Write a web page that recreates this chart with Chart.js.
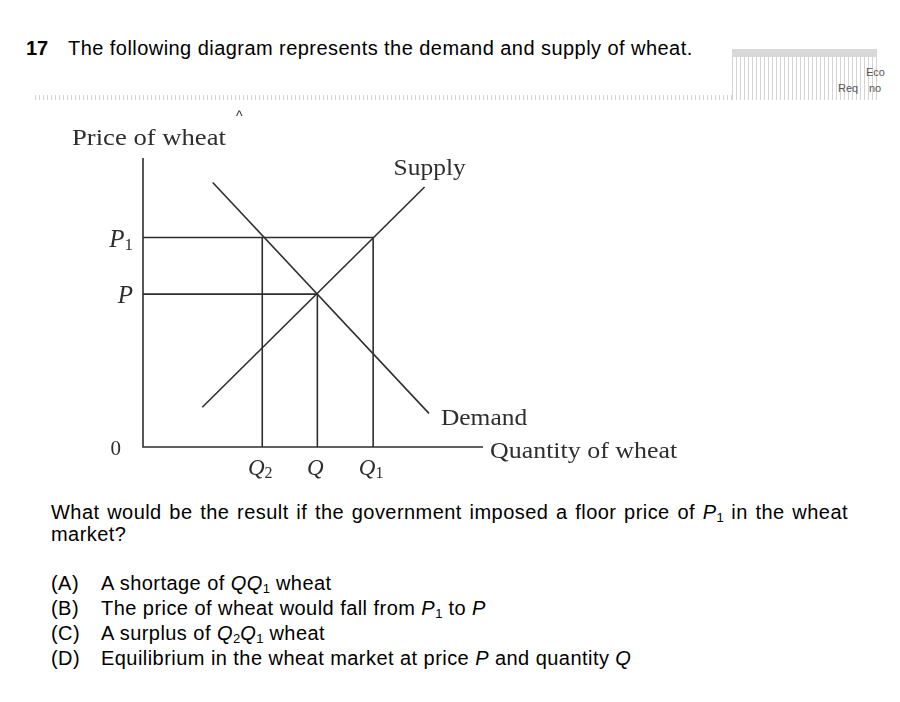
<!DOCTYPE html>
<html>
<head>
<meta charset="utf-8">
<script src="https://cdn.jsdelivr.net/npm/chart.js@4.4.0/dist/chart.umd.min.js"></script>
<style>
    body { margin: 0; background: #fff; width: 900px; height: 702px; position: relative; overflow: hidden;
           font-family: "Liberation Sans", Arial, sans-serif; color: #000; }
    .abs { position: absolute; white-space: nowrap; }
    .txt { font-size: 20px; line-height: 20px; letter-spacing: 0.45px; }
    sub { font-size: 13px; vertical-align: -3px; line-height: 0; letter-spacing: 0; }
    .stripes { background: repeating-linear-gradient(to right, #d4d4d4 0 1px, transparent 1px 4px); }
    .tiny { font-size: 11px; line-height: 11px; color: #555; }
    #question { left: 51px; top: 501px; width: 797px; font-size: 20px; line-height: 22px; letter-spacing: 0.45px;
                text-align: justify; white-space: normal; }
    .opt { font-size: 20px; line-height: 25px; letter-spacing: 0.45px; }
    #wrap { position: absolute; left: 0; top: 100px; width: 700px; height: 390px; }
</style>
</head>
<body>
<div class="abs txt" style="left:26px; top:38px; font-weight:bold; letter-spacing:0;">17</div>
<div class="abs txt" style="left:68px; top:38px;">The following diagram represents the demand and supply of wheat.</div>

<div class="abs" style="left:732px; top:49px; width:145px; height:8px; background:#d9d9d9;"></div>
<div class="abs stripes" style="left:732px; top:57px; width:145px; height:43px;"></div>
<div class="abs stripes" style="left:35px; top:95px; width:697px; height:5px;"></div>
<div class="abs tiny" style="left:866px; top:67px;">Eco</div>
<div class="abs tiny" style="left:838px; top:83px;">Req</div>
<div class="abs tiny" style="left:869px; top:83px;">no</div>

<div id="wrap"><canvas id="diagram" width="700" height="390"></canvas></div>
<div class="abs" style="left:236px; top:108px; font-size:14px; color:#333;">^</div>

<div id="question" class="abs">What would be the result if the government imposed a floor price of <i>P</i><sub>1</sub> in the wheat market?</div>

<div class="abs opt" style="left:51px; top:571px;">(A)<br>(B)<br>(C)<br>(D)</div>
<div class="abs opt" style="left:101px; top:571px;">
A shortage of <i>QQ</i><sub>1</sub> wheat<br>
The price of wheat would fall from <i>P</i><sub>1</sub> to <i>P</i><br>
A surplus of <i>Q</i><sub>2</sub><i>Q</i><sub>1</sub> wheat<br>
Equilibrium in the wheat market at price <i>P</i> and quantity <i>Q</i>
</div>

<script>
// axis ranges (arbitrary units)
const xMax = 19.5;
const yMax = 18.9;

// price levels and quantities
const priceLabels = ['P', 'P1'];
const priceValues = [10, 13.7];
const quantityLabels = ['Q2', 'Q', 'Q1'];
const quantityValues = [6.84, 10, 13.2];

// curve end points
const supplyX = [3.4, 16.15];
const supplyY = [2.6, 17.0];
const demandX = [4.0, 16.4];
const demandY = [17.3, 2.2];

const P = priceValues[0], P1 = priceValues[1];
const Q2 = quantityValues[0], Q = quantityValues[1], Q1 = quantityValues[2];

const ink = '#2e2e2e';
const serif = '"Liberation Serif", "Times New Roman", serif';

function pts(xs, ys) {
    return xs.map((x, i) => ({ x: x, y: ys[i] }));
}

function line(data) {
    return {
        data: data,
        showLine: true,
        borderColor: ink,
        borderWidth: 1.6,
        pointRadius: 0,
        fill: false,
        tension: 0,
        clip: false
    };
}

// draws a label like P1 / Q2 with a small upright subscript
function mathLabel(ctx, text, x, y, size, align) {
    const main = text[0];
    const sub = text.slice(1);
    ctx.font = 'italic ' + size + 'px ' + serif;
    const w1 = ctx.measureText(main).width;
    ctx.font = Math.round(size * 0.68) + 'px ' + serif;
    const w2 = sub ? ctx.measureText(sub).width : 0;
    let left = x;
    if (align === 'right') left = x - w1 - w2;
    if (align === 'center') left = x - (w1 + w2) / 2;
    ctx.textAlign = 'left';
    ctx.font = 'italic ' + size + 'px ' + serif;
    ctx.fillText(main, left, y);
    if (sub) {
        ctx.font = Math.round(size * 0.68) + 'px ' + serif;
        ctx.fillText(sub, left + w1, y + size * 0.12);
    }
}

function stretchText(ctx, text, x, y, size, sx) {
    ctx.save();
    ctx.translate(x, y);
    ctx.scale(sx, 1);
    ctx.font = size + 'px ' + serif;
    ctx.textAlign = 'left';
    ctx.fillText(text, 0, 0);
    ctx.restore();
}

const labelPlugin = {
    id: 'labels',
    afterDraw(chart) {
        const ctx = chart.ctx;
        const xs = chart.scales.x, ys = chart.scales.y;
        ctx.save();
        ctx.fillStyle = ink;
        ctx.textBaseline = 'alphabetic';

        // price ticks on the vertical axis
        priceLabels.forEach((lab, i) => {
            const py = ys.getPixelForValue(priceValues[i]);
            mathLabel(ctx, lab, xs.getPixelForValue(0) - 10, py + 9, 25, 'right');
        });
        ctx.font = '21px ' + serif;
        ctx.textAlign = 'right';
        ctx.fillText('0', xs.getPixelForValue(0) - 22, ys.getPixelForValue(0) + 8);

        // quantity ticks under the horizontal axis
        quantityLabels.forEach((lab, i) => {
            const px = xs.getPixelForValue(quantityValues[i]);
            mathLabel(ctx, lab, px - 2, ys.getPixelForValue(0) + 28, 23, 'center');
        });

        // axis and curve names
        stretchText(ctx, 'Price of wheat', 72, 45, 24, 1.11);
        stretchText(ctx, 'Supply', xs.getPixelForValue(supplyX[1]) - 31, ys.getPixelForValue(supplyY[1]) - 12, 24, 1.06);
        stretchText(ctx, 'Demand', xs.getPixelForValue(demandX[1]) + 12, ys.getPixelForValue(demandY[1]) + 12, 24, 1.06);
        stretchText(ctx, 'Quantity of wheat', xs.getPixelForValue(xMax) + 7, ys.getPixelForValue(0) + 11, 24, 1.08);
        ctx.restore();
    }
};

new Chart(document.getElementById('diagram'), {
    type: 'scatter',
    data: {
        datasets: [
            // axes
            line([{ x: 0, y: yMax }, { x: 0, y: 0 }, { x: xMax, y: 0 }]),
            // floor price P1 and the quantities at it
            line([{ x: 0, y: P1 }, { x: Q1, y: P1 }, { x: Q1, y: 0 }]),
            line([{ x: Q2, y: P1 }, { x: Q2, y: 0 }]),
            // equilibrium
            line([{ x: 0, y: P }, { x: Q, y: P }, { x: Q, y: 0 }]),
            // supply and demand
            line(pts(supplyX, supplyY)),
            line(pts(demandX, demandY))
        ]
    },
    options: {
        responsive: false,
        animation: false,
        devicePixelRatio: 1,
        layout: { padding: { left: 143, top: 58, right: 217, bottom: 43 } },
        scales: {
            x: { type: 'linear', min: 0, max: xMax, display: false },
            y: { type: 'linear', min: 0, max: yMax, display: false }
        },
        plugins: {
            legend: { display: false },
            tooltip: { enabled: false }
        }
    },
    plugins: [labelPlugin]
});
</script>
</body>
</html>
